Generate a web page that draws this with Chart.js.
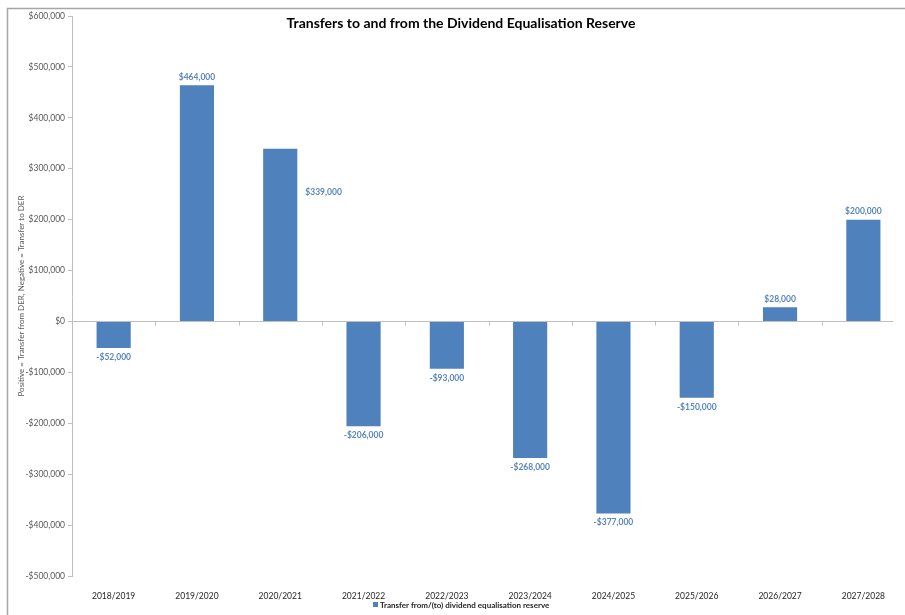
<!DOCTYPE html>
<html>
<head>
<meta charset="utf-8">
<script src="https://cdn.jsdelivr.net/npm/chart.js@4/dist/chart.umd.min.js"></script>
<style>
    body { margin: 0; background: #fff; }
    #wrap { width: 905px; height: 615px; position: relative; }
</style>
</head>
<body>
<div id="wrap"><canvas id="derChart"></canvas></div>
<script>
// 연도별 DER 이체 금액
var years = ['2018/2019', '2019/2020', '2020/2021', '2021/2022', '2022/2023',
             '2023/2024', '2024/2025', '2025/2026', '2026/2027', '2027/2028'];
var transfers = [-52000, 464000, 339000, -206000, -93000, -268000, -377000, -150000, 28000, 200000];
// 라벨 위치 (end = 막대 끝, side = 막대 오른쪽)
var labelSpots = ['end', 'end', 'side', 'end', 'end', 'end', 'end', 'end', 'end', 'end'];
var yTicks = [600000, 500000, 400000, 300000, 200000, 100000, 0, -100000, -200000, -300000, -400000, -500000];

var seriesName = 'Transfer from/(to) dividend equalisation reserve';
var titleText = 'Transfers to and from the Dividend Equalisation Reserve';
var barColor = '#4f81bd';
var labelColor = '#5886be';
var axisGray = '#bfbfbf';

function money(v) {
    return (v < 0 ? '-' : '') + '$' + Math.abs(v).toLocaleString('en-US');
}

// 테두리, 0선, 제목, 라벨, 범례 그리기
var extras = {
    id: 'extras',
    beforeDraw: function (chart) {
        var c = chart.ctx;
        c.save();
        c.fillStyle = '#fff';
        c.fillRect(0, 0, chart.width, chart.height);
        c.strokeStyle = '#a6a6a6';
        c.lineWidth = 1.5;
        c.beginPath();
        c.moveTo(7.5, chart.height);
        c.lineTo(7.5, 8.5);
        c.lineTo(chart.width, 8.5);
        c.stroke();
        c.restore();
    },
    beforeDatasetsDraw: function (chart) {
        var c = chart.ctx;
        var xs = chart.scales.x, ys = chart.scales.y;
        var y0 = Math.round(ys.getPixelForValue(0)) + 0.5;
        var step = (xs.right - xs.left) / years.length;

        c.save();
        c.strokeStyle = axisGray;
        c.lineWidth = 1;
        // 0선
        c.beginPath();
        c.moveTo(xs.left, y0);
        c.lineTo(xs.right - 12, y0);
        c.stroke();
        // x축 눈금 (0선 아래)
        for (var i = 1; i < years.length; i++) {
            var tx = Math.round(xs.left + i * step) + 0.5;
            c.beginPath();
            c.moveTo(tx, y0);
            c.lineTo(tx, y0 + 4);
            c.stroke();
        }
        c.restore();
    },
    afterDatasetsDraw: function (chart) {
        var c = chart.ctx;
        var ys = chart.scales.y;

        c.save();
        // 데이터 라벨
        c.font = 'bold 8.5px Lato';
        c.fillStyle = labelColor;
        c.textBaseline = 'middle';
        var meta = chart.getDatasetMeta(0);
        meta.data.forEach(function (bar, i) {
            var v = transfers[i];
            if (labelSpots[i] === 'side') {
                c.textAlign = 'left';
                c.fillText(money(v), bar.x + bar.width / 2 + 8, ys.getPixelForValue(v * 0.75));
            } else {
                c.textAlign = 'center';
                c.fillText(money(v), bar.x, v >= 0 ? bar.y - 8 : bar.y + 9);
            }
        });

        // 제목
        c.font = 'bold 14px Lato';
        c.fillStyle = '#000';
        c.textAlign = 'center';
        c.fillText(titleText, 461, 23);

        // 범례
        c.font = 'bold 8px Lato';
        c.fillStyle = barColor;
        c.fillRect(373, 602, 5, 5);
        c.fillStyle = '#262626';
        c.textAlign = 'left';
        c.fillText(seriesName, 380, 605);
        c.restore();
    }
};

new Chart(document.getElementById('derChart'), {
    type: 'bar',
    data: {
        labels: years,
        datasets: [{
            label: seriesName,
            data: transfers,
            backgroundColor: barColor,
            borderWidth: 0,
            barPercentage: 0.41,
            categoryPercentage: 1
        }]
    },
    options: {
        responsive: true,
        maintainAspectRatio: false,
        animation: false,
        layout: { padding: { top: 16, right: 0, bottom: 0, left: 0 } },
        plugins: {
            legend: { display: false },
            title: { display: false },
            tooltip: { enabled: false }
        },
        scales: {
            x: {
                grid: { display: false },
                border: { display: false },
                ticks: {
                    color: '#262626',
                    font: { family: 'Lato', size: 8.5 },
                    padding: 7,
                    maxRotation: 0
                },
                afterFit: function (s) { s.height = 39; }
            },
            y: {
                min: -500000,
                max: 600000,
                afterBuildTicks: function (s) {
                    s.ticks = yTicks.map(function (v) { return { value: v }; });
                },
                grid: {
                    drawOnChartArea: false,
                    tickLength: 4,
                    tickColor: axisGray
                },
                border: { display: true, color: axisGray, width: 1 },
                ticks: {
                    color: '#595959',
                    font: { family: 'Lato', size: 8.5 },
                    padding: 3,
                    callback: function (v) { return money(v); }
                },
                title: {
                    display: true,
                    text: 'Positive = Transfer from DER, Negative = Transfer to DER',
                    color: '#595959',
                    font: { family: 'Lato', size: 8 },
                    padding: { top: 17, bottom: 0 }
                },
                afterFit: function (s) { s.width = 72; }
            }
        }
    },
    plugins: [extras]
});
</script>
</body>
</html>
